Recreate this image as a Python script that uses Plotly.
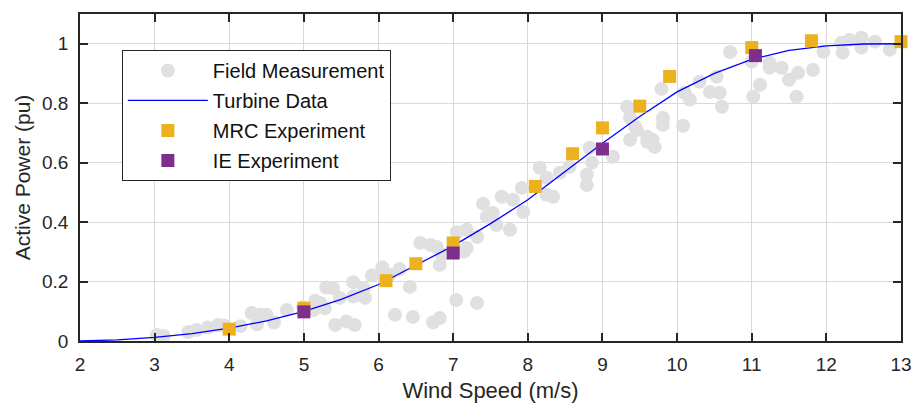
import plotly.graph_objects as go

# Field measurement (wind speed m/s, active power pu)
field_x = [3.03, 3.12, 3.45, 3.56, 3.71, 3.85, 3.93, 4.15, 4.30, 4.41, 4.50, 4.37, 4.60, 4.77,
           4.99, 5.13, 5.15, 5.22, 5.28, 5.30, 5.39, 5.42, 5.57, 5.68, 5.48, 5.66, 5.66, 5.80,
           5.82, 5.91, 6.05, 6.15, 6.22, 6.46, 6.42, 6.28, 6.56, 6.70, 6.78, 6.85, 6.82, 6.73,
           6.82, 7.04, 7.32, 7.05, 7.18, 7.32, 7.14, 7.18, 7.40, 7.45, 7.53, 7.58, 7.76, 7.65,
           7.80, 7.94, 7.92, 8.16, 8.25, 8.25, 8.34, 8.43, 8.56, 8.79, 8.79, 8.86, 8.83, 9.14,
           9.33, 9.37, 9.37, 9.46, 9.60, 9.44, 9.60, 9.70, 9.81, 9.81, 9.67, 9.79, 10.08, 10.17,
           10.10, 10.30, 10.44, 10.53, 10.57, 10.60, 10.71, 11.00, 11.02, 11.11, 11.24, 11.24,
           11.40, 11.50, 11.62, 11.60, 11.82, 11.96, 12.20, 12.22, 12.31, 12.47, 12.47, 12.65,
           12.85]
field_y = [0.020, 0.017, 0.030, 0.037, 0.045, 0.054, 0.052, 0.050, 0.094, 0.088, 0.088, 0.056,
           0.062, 0.104, 0.114, 0.104, 0.135, 0.128, 0.110, 0.180, 0.178, 0.054, 0.066, 0.054,
           0.145, 0.150, 0.198, 0.178, 0.145, 0.220, 0.248, 0.222, 0.088, 0.081, 0.182, 0.242,
           0.330, 0.323, 0.316, 0.290, 0.256, 0.063, 0.077, 0.138, 0.128, 0.366, 0.374, 0.350,
           0.300, 0.313, 0.462, 0.418, 0.431, 0.390, 0.374, 0.485, 0.475, 0.434, 0.515, 0.583,
           0.549, 0.492, 0.485, 0.566, 0.586, 0.559, 0.525, 0.600, 0.650, 0.620, 0.788, 0.751,
           0.677, 0.710, 0.670, 0.720, 0.687, 0.653, 0.727, 0.750, 0.677, 0.848, 0.724, 0.812,
           0.835, 0.872, 0.838, 0.889, 0.835, 0.788, 0.972, 0.940, 0.822, 0.862, 0.936, 0.919,
           0.919, 0.879, 0.902, 0.822, 0.912, 0.973, 1.003, 0.970, 1.013, 1.020, 0.987, 1.007,
           0.980]

# Turbine power curve
turbine_x = [2, 2.5, 3, 3.5, 4, 4.5, 5, 5.5, 6, 6.5, 7, 7.5, 8, 8.5, 9, 9.5, 10, 10.5,
             11, 11.5, 12, 12.5, 13]
turbine_y = [0, 0.004, 0.012, 0.025, 0.043, 0.068, 0.100, 0.140, 0.190, 0.255, 0.320, 0.395,
             0.475, 0.570, 0.665, 0.755, 0.838, 0.900, 0.947, 0.978, 0.993, 0.999, 1.000]

# MRC experiment
mrc_x = [4.0, 5.0, 6.1, 6.5, 7.0, 8.1, 8.6, 9.0, 9.5, 9.9, 11.0, 11.8, 13.0]
mrc_y = [0.040, 0.110, 0.203, 0.260, 0.330, 0.520, 0.630, 0.717, 0.790, 0.890, 0.987, 1.010, 1.007]

# IE experiment
ie_x = [5.0, 7.0, 9.0, 11.05]
ie_y = [0.098, 0.296, 0.646, 0.960]

x_ticks = [2, 3, 4, 5, 6, 7, 8, 9, 10, 11, 12, 13]
y_ticks = [0, 0.2, 0.4, 0.6, 0.8, 1]
y_tick_text = ["0", "0.2", "0.4", "0.6", "0.8", "1"]

FONT = "Liberation Sans, Arial, sans-serif"
AX = "#262626"

fig = go.Figure()
fig.add_trace(go.Scatter(x=field_x, y=field_y, mode="markers", name="Field Measurement",
                         legendgroup="a",
                         marker=dict(size=14, color="#e0e0e0", line=dict(width=0))))
fig.add_trace(go.Scatter(x=turbine_x, y=turbine_y, mode="lines", name="Turbine Data",
                         legendgroup="b", line=dict(color="#0000ff", width=1.3)))
fig.add_trace(go.Scatter(x=mrc_x, y=mrc_y, mode="markers", name="MRC Experiment",
                         legendgroup="c", cliponaxis=False,
                         marker=dict(symbol="square", size=13, color="#EDB120", line=dict(width=0))))
fig.add_trace(go.Scatter(x=ie_x, y=ie_y, mode="markers", name="IE Experiment",
                         legendgroup="d",
                         marker=dict(symbol="square", size=13, color="#7E2F8E", line=dict(width=0))))

axis_common = dict(showline=True, linecolor=AX, linewidth=1.5, mirror="ticks",
                   ticks="inside", ticklen=8, tickwidth=1.5, tickcolor=AX,
                   showgrid=True, gridcolor="#d9d9d9", gridwidth=1.3, zeroline=False,
                   automargin=False,
                   tickfont=dict(family=FONT, size=19, color=AX))

fig.update_xaxes(range=[2, 13], tickvals=x_ticks, ticklabelstandoff=5,
                 title=dict(text="Wind Speed (m/s)", font=dict(family=FONT, size=22, color=AX),
                            standoff=9),
                 **axis_common)
fig.update_yaxes(range=[0, 1.1], tickvals=y_ticks, ticktext=y_tick_text, ticklabelstandoff=6,
                 title=dict(text="Active Power (pu)", font=dict(family=FONT, size=21, color=AX),
                            standoff=6),
                 **axis_common)

fig.update_layout(
    width=915, height=405,
    margin=dict(l=80, r=14, t=14, b=64),
    plot_bgcolor="white", paper_bgcolor="white",
    font=dict(family=FONT, color=AX),
    legend=dict(x=0.051, y=0.89, xanchor="left", yanchor="top",
                bgcolor="white", bordercolor=AX, borderwidth=1,
                font=dict(family=FONT, size=20, color="#111111"),
                tracegroupgap=1, itemwidth=80),
    showlegend=True,
)

fig.write_html("out.html")
